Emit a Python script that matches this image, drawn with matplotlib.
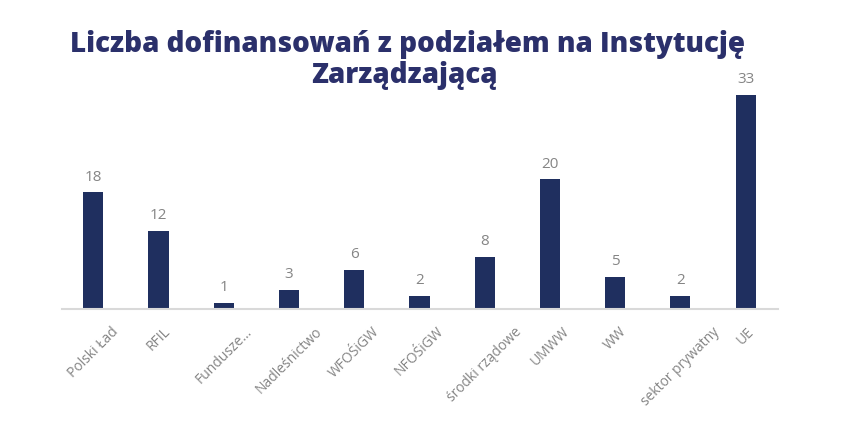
import matplotlib.pyplot as plt

categories = ["Polski Ład", "RFIL", "Fundusze…", "Nadleśnictwo", "WFOŚiGW",
              "NFOŚiGW", "środki rządowe", "UMWW", "WW", "sektor prywatny", "UE"]
values = [18, 12, 1, 3, 6, 2, 8, 20, 5, 2, 33]

TITLE_LINES = ["Liczba dofinansowań z podziałem na Instytucję", "Zarządzającą"]
BAR_COLOR = "#1f2f5f"
TEXT_GRAY = "#858585"


def main() -> None:
    fig = plt.figure(figsize=(8.59, 4.21), dpi=100)
    ax = fig.add_axes([0.072, 0.266, 0.834, 0.554])

    x = range(len(categories))
    ax.bar(x, values, width=0.31, color=BAR_COLOR, zorder=2)

    for xi, v in zip(x, values):
        ax.text(xi, v + 1.2, str(v), ha="center", va="bottom",
                fontsize=11, color=TEXT_GRAY, family="Open Sans")

    ax.set_xlim(-0.48, 10.5)
    ax.set_ylim(0, 36)
    ax.set_yticks([])
    ax.set_xticks(list(x))
    ax.set_xticklabels(categories, rotation=45, ha="center", va="top",
                       fontsize=10, color=TEXT_GRAY, family="Open Sans")
    ax.tick_params(axis="x", length=0, pad=11)

    for side in ["top", "right", "left"]:
        ax.spines[side].set_visible(False)
    ax.spines["bottom"].set_color("#d9d9d9")
    ax.spines["bottom"].set_linewidth(1.5)

    # title drawn line by line
    for line, (tx, ty) in zip(TITLE_LINES, [(0.474, 0.8765), (0.471, 0.803)]):
        fig.text(tx, ty, line, ha="center", va="baseline", fontsize=20,
                 color="#2b306b", family="Open Sans", fontweight="heavy")

    fig.savefig("out.png", dpi=100)


if __name__ == "__main__":
    main()
